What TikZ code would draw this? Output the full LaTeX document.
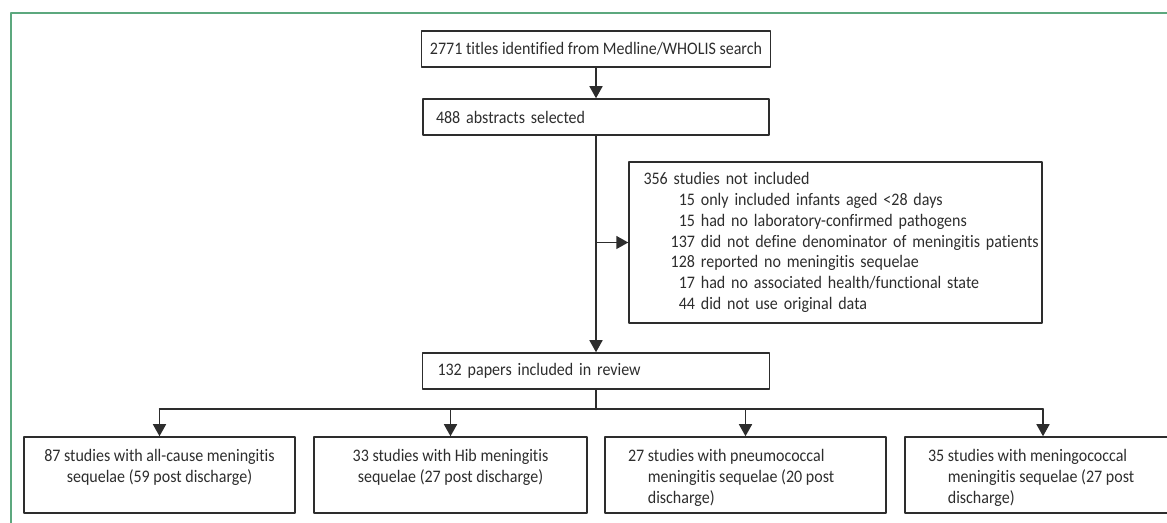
\documentclass[tikz,border=0pt]{standalone}
\usepackage{fontspec}
\setmainfont{Carlito}[FakeStretch=0.91,Ligatures=NoCommon]
\usepackage{xcolor}
\usetikzlibrary{arrows.meta}
\usetikzlibrary{positioning}
\definecolor{framegreen}{RGB}{92,168,126}
\definecolor{boxgray}{RGB}{45,45,45}
\newcommand{\hangnum}[2]{\setbox0\hbox{#1\ }\hangindent\wd0\hangafter1\noindent\strut\box0 #2}
\newcommand{\exclline}[2]{\mbox{\makebox[25.75pt][r]{#1}\ #2}}

\begin{document}
\begin{tikzpicture}[x=0.5pt,y=-0.5pt,line cap=round,line join=round,
  box/.style={draw=boxgray,line width=0.75pt,inner sep=0pt,text=boxgray,font=\fontsize{8.8}{10.4}\selectfont},
  wire/.style={draw=boxgray,line width=0.75pt},
  flow/.style={wire,-{Triangle[length=6pt,width=6.5pt]}}]
\useasboundingbox (0,0) rectangle (1167,523);
\clip (0,0) rectangle (1167,523);
\draw [framegreen,line width=0.75pt] (11,530) -- (11,13) -- (1175,13);
\node [box,minimum width=174.5pt,minimum height=18pt] (titles) at (596,49) {2771 titles identified from Medline/WHOLIS search};
\node [box,minimum width=173pt,minimum height=18pt,text width=160pt,align=left] (abstracts) at (596,117) {488 abstracts selected};
\node [box,minimum width=206.5pt,minimum height=80.5pt,text width=192pt,align=left] (excluded) at (835.5,242.5) {\mbox{356 studies not included}\\
\exclline{15}{only included infants aged <28 days}\\
\exclline{15}{had no laboratory-confirmed pathogens}\\
\exclline{137}{did not define denominator of meningitis patients}\\
\exclline{128}{reported no meningitis sequelae}\\
\exclline{17}{had no associated health/functional state}\\
\exclline{44}{did not use original data}};
\node [box,minimum width=173.5pt,minimum height=18pt,text width=158.5pt,align=left] (review) at (596,371) {132 papers included in review};
\node [box,minimum width=135.5pt,minimum height=38pt] (allcause) at (159.5,475) {\parbox[c][28pt][t]{130pt}{\centering\strut 87 studies with all-cause meningitis\\ sequelae (59 post discharge)}};
\node [box,minimum width=136.5pt,minimum height=38pt] (hib) at (450.5,475) {\parbox[c][28pt][t]{125pt}{\centering\strut 33 studies with Hib meningitis\\ sequelae (27 post discharge)}};
\node [box,minimum width=140.5pt,minimum height=38pt] (pneumo) at (745.5,475) {\parbox[c][28pt][t]{117.5pt}{\hangnum{27}{studies with pneumococcal\\ meningitis sequelae (20 post\\ discharge)}}};
\node [box,minimum width=138pt,minimum height=38pt] (meningo) at (1043,475) {\parbox[c][28pt][t]{115pt}{\hangnum{35}{studies with meningococcal\\ meningitis sequelae (27 post\\ discharge)}}};
\coordinate (split) at (596,409);
\draw [flow] (titles.south) -- (abstracts.north);
\draw [flow] (abstracts.south) -- (review.north);
\draw [flow] (abstracts.south |- excluded.west) -- (excluded.west);
\draw [wire] (review.south) -- (split);
\draw [wire] (allcause.north |- split) -- (meningo.north |- split);
\foreach \b in {allcause,hib,pneumo,meningo}
  \draw [flow] (\b.north |- split) -- (\b.north);
\end{tikzpicture}
\end{document}
